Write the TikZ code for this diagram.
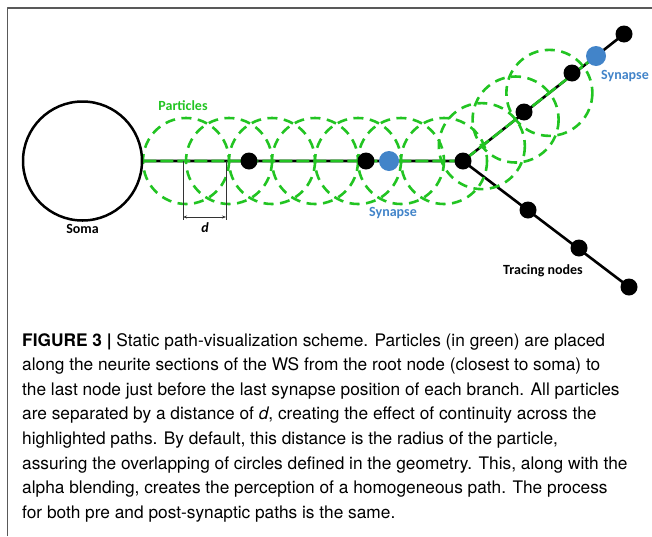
\documentclass[tikz,border=0pt]{standalone}
\usepackage{fontspec}
\setmainfont{TeX Gyre Heros}
\newfontfamily\labelfont{Carlito}
\usetikzlibrary{calc,arrows.meta,backgrounds}
\definecolor{particlegreen}{RGB}{34,196,34}
\definecolor{synblue}{RGB}{66,132,201}

\begin{document}
\begin{tikzpicture}
    [x=1pt,y=-1pt,line join=round,
     tnode/.style={circle,fill=black,minimum size=17pt,inner sep=0pt},
     synnode/.style={circle,fill=synblue,minimum size=20pt,inner sep=0pt},
     particle/.style={particlegreen,line width=2.6pt,dash pattern=on 10pt off 6.5pt},
     lbl/.style={font=\labelfont\bfseries\fontsize{14}{16}\selectfont}]
    \useasboundingbox (0,0) rectangle (652,536);

    % frame
    \draw[line width=1.5pt,black!65] (7.5,536) -- (7.5,8) -- (652,8);

    % soma and tracing nodes
    \node[circle,draw,line width=2.5pt,minimum size=119pt,inner sep=0pt] (soma) at (82.5,161) {};
    \node[tnode]   (n1)   at (249,161) {};
    \node[tnode]   (n2)   at (366,161) {};
    \node[synnode] (syn1) at (389,161) {};
    \node[tnode]   (br)   at (463,161) {};
    \node[tnode]   (u1)   at (524,112) {};
    \node[tnode]   (u2)   at (572,73)  {};
    \node[synnode] (syn2) at (596,56)  {};
    \node[tnode]   (u3)   at (624,34)  {};
    \node[tnode]   (l1)   at (528,210) {};
    \node[tnode]   (l2)   at (579,248) {};
    \node[tnode]   (l3)   at (629,287) {};

    \begin{scope}[on background layer]
      % neurite
      \draw[line width=2.6pt] (soma.east) -- (br.center) -- (u3.center);
      \draw[line width=2.6pt] (br.center) -- (l3.center);
      \draw[particlegreen,line width=2.6pt,dash pattern=on 13pt off 4pt]
        (soma.east) -- (br.center) -- (syn2.center);
      % particles
      \foreach \px in {186,229,...,444}
        \draw[particle] (\px,161) circle[radius=43];
      \foreach \s in {24,67,110}
        \draw[particle] ($(br.center)!\s pt!(u3.center)$) circle[radius=43];
    \end{scope}

    % distance d
    \coordinate (dA) at (183,161);
    \coordinate (dB) at (226,161);
    \coordinate (dA') at (183,220);
    \coordinate (dB') at (226,220);
    \draw[line width=0.6pt,black!80] (dA) -- (dA');
    \draw[line width=0.6pt,black!80] (dB) -- (dB');
    \draw[line width=0.6pt,black!80,{Stealth[length=4pt]}-{Stealth[length=4pt]}]
      ($(dA')+(0,-3)$) -- ($(dB')+(0,-3)$);

    % labels
    \node[lbl] (somalbl) at (82.5,229) {Soma};
    \node[lbl,text=particlegreen] (partlbl) at (183,106) {Particles};
    \node[lbl] (dlbl) at (205,228) {\itshape d};
    \node[lbl,text=synblue] (syn1lbl) at (393,213) {Synapse};
    \node[lbl,text=synblue] (syn2lbl) at (625,76) {Synapse};
    \node[lbl] (tracelbl) at (543,271) {Tracing nodes};

    % caption
    \node[anchor=north west,align=left,inner sep=0pt,font=\fontsize{17.3}{24.6}\selectfont] (caption) at (22,333)
      {\textbf{FIGURE 3 |} Static path-visualization scheme. Particles (in green) are placed\\
       along the neurite sections of the WS from the root node (closest to soma) to\\
       the last node just before the last synapse position of each branch. All particles\\
       are separated by a distance of \textit{d}, creating the effect of continuity across the\\
       highlighted paths. By default, this distance is the radius of the particle,\\
       assuring the overlapping of circles defined in the geometry. This, along with the\\
       alpha blending, creates the perception of a homogeneous path. The process\\
       for both pre and post-synaptic paths is the same.};
\end{tikzpicture}
\end{document}
